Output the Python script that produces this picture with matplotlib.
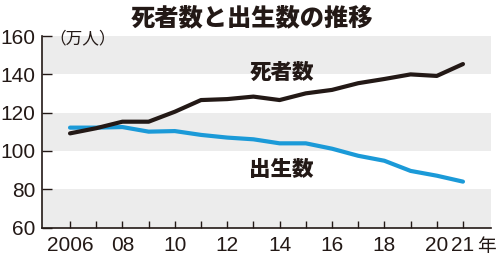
import numpy as np
import matplotlib
matplotlib.use('Agg')
import matplotlib.pyplot as plt
import matplotlib.transforms as mtransforms

years = np.arange(2006, 2022)
deaths = [109.2, 111.9, 115.3, 115.3, 120.5, 126.6, 127.1, 128.4, 126.6, 130.1,
          131.9, 135.4, 137.6, 140.0, 139.2, 145.4]
births = [112.2, 112.2, 112.5, 110.1, 110.4, 108.4, 107.0, 106.1, 104.0, 104.0,
          101.2, 97.5, 94.9, 89.6, 87.1, 84.0]
yticks = [60, 80, 100, 120, 140, 160]
xticks = [2006, 2008, 2010, 2012, 2014, 2016, 2018, 2020, 2021]
xlabels = ['2006', '08', '10', '12', '14', '16', '18', '20', '21']

JP = ['Noto Sans CJK JP', 'DejaVu Sans']
NUM = ['Liberation Sans Narrow', 'Liberation Sans', 'DejaVu Sans']
BLACK = '#231916'
BLUE = '#1b9ad8'

fig = plt.figure(figsize=(5, 2.56), dpi=100)
ax = fig.add_axes([0.084, 0.111, 0.898, 0.748])

# grey bands
for lo in (60, 100, 140):
    ax.axhspan(lo, lo + 20, color='#ececec', lw=0, zorder=0)

ax.plot(years, births, color=BLUE, lw=3.0, solid_capstyle='round', zorder=3)
ax.plot(years, deaths, color=BLACK, lw=3.0, solid_capstyle='round', zorder=4)

ax.set_xlim(2004.93, 2022.07)
ax.set_ylim(60, 160)
ax.set_yticks(yticks)
ax.set_xticks(years)
ax.set_xticklabels(['' for y in years])
tr = mtransforms.blended_transform_factory(ax.transData, ax.transAxes)
for y, lab in zip(xticks, xlabels):
    ax.text(y, -0.045, lab, transform=tr, ha='center', va='top',
            fontsize=15, family=NUM, color=BLACK)
ax.text(2021.55, -0.045, '年', transform=tr, ha='left', va='top',
        fontsize=13.5, family=JP, color=BLACK)

for s in ('top', 'right'):
    ax.spines[s].set_visible(False)
for s in ('left', 'bottom'):
    ax.spines[s].set_linewidth(1.2)
    ax.spines[s].set_color(BLACK)

ax.tick_params(axis='x', direction='in', length=5, width=1, color=BLACK)
ax.tick_params(axis='y', direction='in', length=7, width=1, color=BLACK, pad=5)
for t in ax.get_yticklabels():
    t.set_family(NUM)
    t.set_fontsize(15)
    t.set_color(BLACK)

fig.text(0.504, 0.93, '死者数と出生数の推移', ha='center', va='center',
         fontsize=17.5, fontweight='heavy', family=JP, color=BLACK)
ax.text(2005.2, 158.5, '（万人）', ha='left', va='center', fontsize=12, family=JP, color=BLACK)
ax.text(2012.85, 141, '死者数', ha='left', va='center', fontsize=15.5, fontweight='heavy', family=JP, color=BLACK)
ax.text(2012.85, 90.5, '出生数', ha='left', va='center', fontsize=15.5, fontweight='heavy', family=JP, color=BLACK)

fig.savefig('out.png', dpi=100, facecolor='white')
